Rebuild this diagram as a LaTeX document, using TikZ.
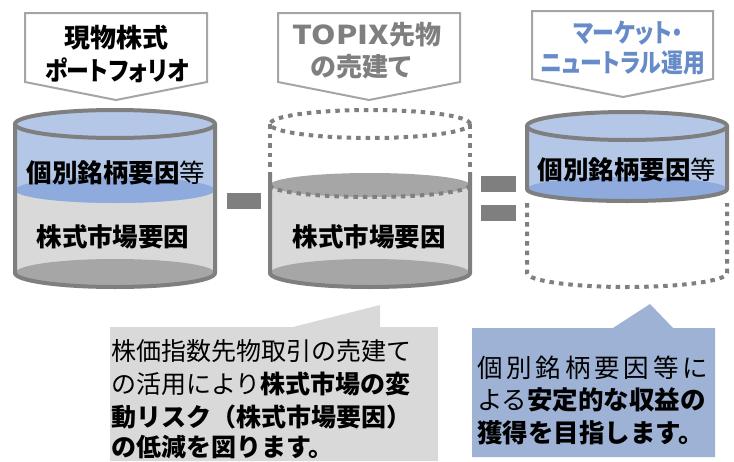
\documentclass[tikz,border=0pt]{standalone}
\usepackage{fontspec}
\usepackage{graphicx}
\newfontfamily\jp{Noto Sans CJK JP}
\newfontfamily\jpp[RawFeature=+palt]{Noto Sans CJK JP}
\definecolor{cline}{HTML}{7F7F7F}
\definecolor{cgray}{HTML}{D9D9D9}
\definecolor{cdark}{HTML}{A6A6A6}
\definecolor{lblue}{HTML}{B4C7E7}
\definecolor{dblue}{HTML}{8FAADC}
\definecolor{calline}{HTML}{A5A5A5}
\definecolor{labgray}{HTML}{7F7F7F}
\definecolor{labblue}{RGB}{103,139,200}
\definecolor{boxgray}{HTML}{D9D9D9}
\definecolor{boxblue}{RGB}{158,178,214}
\tikzset{
  sol/.style={draw=cline, line width=4pt},
  dotl/.style={draw=cline, line width=4pt, dash pattern=on 4.5pt off 5pt},
  callout/.style={draw=calline, fill=white, line width=2pt, line join=miter},
  lab/.style={font=\jpp\bfseries\fontsize{26}{26}\selectfont, inner sep=0pt},
  cyltext/.style={font=\jp\bfseries\fontsize{25.5}{26}\selectfont, inner sep=0pt},
  graytext/.style={font=\jp\fontsize{25}{33}\selectfont, inner sep=0pt, anchor=base west},
  bluetext/.style={font=\jp\fontsize{25.5}{33}\selectfont, inner sep=0pt, anchor=base west},
  opbar/.style={fill=cline}
}
\begin{document}
\begin{tikzpicture}[x=1pt,y=-1pt]
\useasboundingbox (0,0) rectangle (734,461);
\fill[white] (0,0) rectangle (734,461);

% ---------- top labels (pentagons)
\draw[callout] (25,13) -- (207,13) -- (207,82) -- (116,100) -- (25,82) -- cycle;
\draw[callout] (278,13) -- (460,13) -- (460,82) -- (369,100) -- (278,82) -- cycle;
\draw[callout] (532,11) -- (713,11) -- (713,79) -- (623,97) -- (532,79) -- cycle;
\node[lab] (l1a) at (116,38) {現物株式};
\node[lab] (l1b) at (117,70) {\scalebox{0.88}[1]{ポートフォリオ}};
\node[lab, text=labgray] (l2a) at (367,35) {\scalebox{1.2}[1]{TOPIX}先物};
\node[lab, text=labgray] (l2b) at (361,67) {の売建て};
\node[lab, text=labblue] (l3a) at (628,33) {\scalebox{0.84}[1]{マーケット・}};
\node[lab, text=labblue] (l3b) at (623,63) {\scalebox{0.84}[1]{ニュートラル運用}};

% ---------- cylinder 1
\fill[cgray] (15,190) -- (15,273) arc[start angle=180,end angle=360,x radius=100pt,y radius=14pt] -- (215,190) -- cycle;
\fill[cdark] (115,273) ellipse[x radius=100pt,y radius=14pt];
\fill[lblue] (15,124) -- (15,190) arc[start angle=180,end angle=360,x radius=100pt,y radius=13pt] -- (215,124) -- cycle;
\fill[dblue] (115,190) ellipse[x radius=100pt,y radius=13pt];
\filldraw[fill=lblue, sol] (115,124) ellipse[x radius=100pt,y radius=14pt];
\draw[sol] (15,124) -- (15,273) arc[start angle=180,end angle=360,x radius=100pt,y radius=14pt] -- (215,124);
\node[cyltext] (c1a) at (116,173) {個別銘柄要因{\mdseries 等}};
\node[cyltext] (c1b) at (113,237) {株式市場要因};

% ---------- minus
\fill[opbar] (227,193) rectangle (261,209);

% ---------- cylinder 2
\fill[cgray] (270,185) -- (270,273) arc[start angle=180,end angle=360,x radius=100pt,y radius=14pt] -- (470,185) -- cycle;
\fill[cdark] (370,273) ellipse[x radius=100pt,y radius=14pt];
\fill[cdark] (370,185) ellipse[x radius=100pt,y radius=12pt];
\draw[dotl] (270,185) arc[start angle=180,end angle=360,x radius=100pt,y radius=12pt];
\draw[dotl] (370,124) ellipse[x radius=100pt,y radius=14pt];
\draw[dotl] (270,124) -- (270,172);
\draw[dotl] (470,124) -- (470,172);
\draw[sol] (270,172) -- (270,273) arc[start angle=180,end angle=360,x radius=100pt,y radius=14pt] -- (470,172);
\node[cyltext] (c2b) at (369,237) {株式市場要因};

% ---------- equals
\fill[opbar] (481,176) rectangle (516,192);
\fill[opbar] (481,205) rectangle (516,221);

% ---------- cylinder 3
\fill[lblue] (527,126) -- (527,189) arc[start angle=180,end angle=360,x radius=100pt,y radius=12pt] -- (727,126) -- cycle;
\fill[dblue] (627,189) ellipse[x radius=100pt,y radius=12pt];
\filldraw[fill=lblue, sol] (627,126) ellipse[x radius=100pt,y radius=14pt];
\draw[sol] (527,126) -- (527,189) arc[start angle=180,end angle=360,x radius=100pt,y radius=12pt] -- (727,126);
\draw[dotl] (527,203) -- (527,273) arc[start angle=180,end angle=360,x radius=100pt,y radius=14pt] -- (727,203);
\node[cyltext] (c3a) at (627,170) {個別銘柄要因{\mdseries 等}};

% ---------- bottom callouts
\fill[boxgray] (110,327) -- (293,327) -- (380,305) -- (380,327) -- (438,327) -- (438,461) -- (110,461) -- cycle;
\fill[boxblue] (472,328) -- (613,328) -- (650,304) -- (673,328) -- (715,328) -- (715,457) -- (472,457) -- cycle;

\node[graytext] (g1) at (111,360) {株価指数先物取引の売建て};
\node[graytext] (g2) at (111,393) {の活用により\textbf{株式市場の変}};
\node[graytext] (g3) at (111,426) {\textbf{動リスク（株式市場要因）}};
\node[graytext] (g4) at (111,456) {\textbf{の低減を図ります。}};

\node[bluetext] (b1) at (477,377) {\makebox[231pt][l]{個\hfill 別\hfill 銘\hfill 柄\hfill 要\hfill 因\hfill 等\hfill に}};
\node[bluetext] (b2) at (477,409) {よる\textbf{安定的な収益の}};
\node[bluetext] (b3) at (477,442) {\textbf{獲得を目指します。}};
\end{tikzpicture}
\end{document}
